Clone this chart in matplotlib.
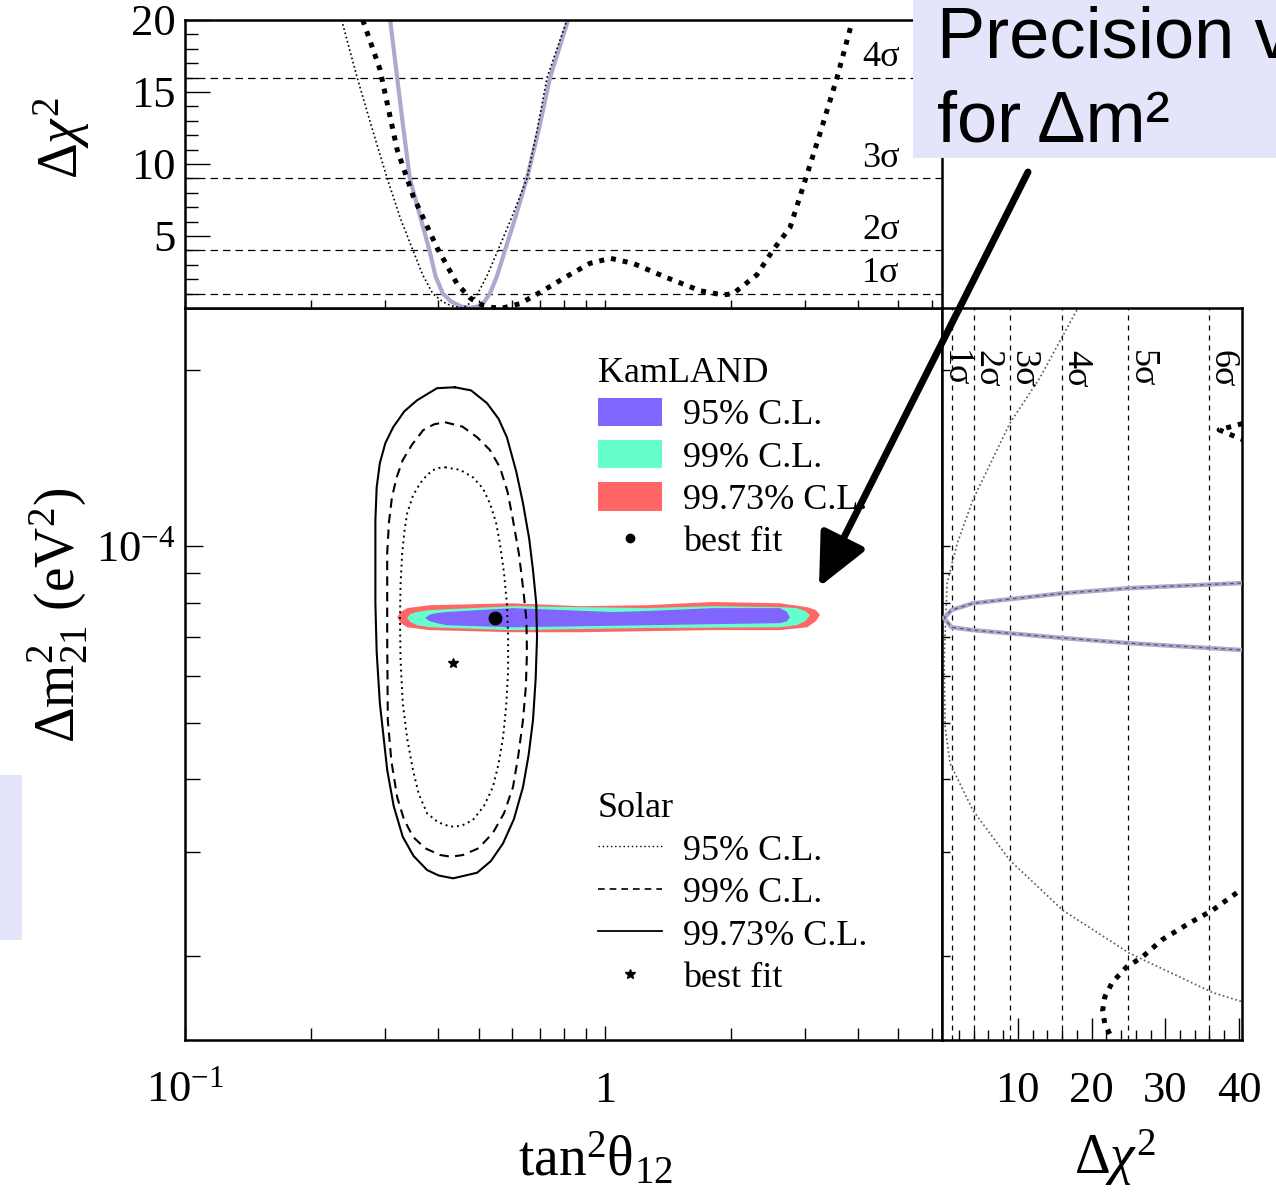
import numpy as np
import matplotlib
matplotlib.use('Agg')
import matplotlib.pyplot as plt
import matplotlib.transforms as mtransforms
from matplotlib.patches import Patch, Rectangle, FancyArrowPatch
from matplotlib.lines import Line2D
from matplotlib.ticker import FixedLocator, NullFormatter, FixedFormatter

plt.rcParams['font.family'] = ['Liberation Serif', 'DejaVu Serif']
plt.rcParams['mathtext.fontset'] = 'custom'
plt.rcParams['mathtext.rm'] = 'Liberation Serif'
plt.rcParams['mathtext.it'] = 'Liberation Serif:italic'
plt.rcParams['mathtext.bf'] = 'Liberation Serif:bold'

# ---------------- data (tan^2 theta, dm2 in 1e-5 eV^2, delta chi^2) ----------------
# Top panel: delta chi^2 vs tan^2 theta12
comb_t = [0.308, 0.320, 0.331, 0.343, 0.362, 0.382, 0.395, 0.411, 0.430, 0.455, 0.477,
          0.500, 0.515, 0.532, 0.553, 0.578, 0.615, 0.652, 0.697, 0.740, 0.817]
comb_c = [20.0, 16.0, 12.5, 9.0, 6.5, 4.0, 2.2, 1.0, 0.45, 0.1, 0.0,
          0.12, 0.4, 1.0, 2.2, 4.0, 6.5, 9.0, 12.5, 16.0, 20.0]

solar_t = [0.236, 0.257, 0.280, 0.303, 0.325, 0.349, 0.368, 0.389, 0.410, 0.430, 0.459,
           0.478, 0.498, 0.525, 0.556, 0.600, 0.652, 0.690, 0.728, 0.812]
solar_c = [20.0, 16.0, 12.3, 9.0, 6.3, 4.0, 2.3, 1.0, 0.45, 0.15, 0.0,
           0.35, 1.0, 2.3, 4.0, 6.3, 9.0, 12.4, 16.0, 20.0]

kam_t = [0.265, 0.291, 0.320, 0.349, 0.398, 0.444, 0.477, 0.510, 0.540, 0.571, 0.628, 0.712,
         0.812, 0.921, 1.03, 1.166, 1.405, 1.684, 1.91, 2.02, 2.30, 2.51, 2.76, 3.03, 3.25,
         3.57, 3.87]
kam_c = [20.0, 16.6, 11.0, 7.8, 4.2, 1.7, 0.7, 0.2, 0.03, 0.0, 0.3, 1.2,
         2.2, 3.1, 3.45, 3.1, 2.1, 1.2, 0.9, 1.0, 2.3, 4.0, 5.6, 9.3, 12.1,
         16.0, 19.8]

sigma_levels = [1, 4, 9, 16, 25, 36]
sigma_names = ['1σ', '2σ', '3σ', '4σ', '5σ', '6σ']

# Right panel: delta chi^2 vs dm2 (1e-5 eV^2)
comb_r_c = [40.3, 25.1, 16.1, 3.9, 1.0, 0.0, 1.0, 3.9, 16.1, 25.1, 40.3]
comb_r_m = [8.65, 8.48, 8.31, 7.99, 7.78, 7.54, 7.27, 7.19, 6.97, 6.83, 6.65]

solar_r_c = [18.0, 13.0, 8.9, 3.9, 1.76, 0.4, 0.0, 0.14, 0.8, 3.9, 8.9, 16.1, 25.1, 36.4, 40.3]
solar_r_m = [25.3, 19.4, 16.2, 12.0, 10.1, 8.65, 6.4, 4.91, 4.26, 3.54, 2.91, 2.39, 2.02, 1.73, 1.67]

kam_r_low_c = [39.7, 36.4, 33.2, 29.6, 26.9, 24.7, 22.8, 21.8, 21.5, 21.8, 22.8]
kam_r_low_m = [2.56, 2.39, 2.27, 2.13, 1.99, 1.91, 1.80, 1.70, 1.61, 1.53, 1.44]
kam_r_high_c = [40.5, 37.3, 40.5]
kam_r_high_m = [16.2, 15.8, 15.2]

# Main panel: solar contours (tan^2, dm2 in 1e-5)
sol997_t = [0.439, 0.480, 0.524, 0.558, 0.584, 0.615, 0.638, 0.660, 0.674, 0.686, 0.689,
            0.684, 0.674, 0.658, 0.638, 0.607, 0.572, 0.535, 0.496, 0.435, 0.402, 0.377,
            0.350, 0.330, 0.314, 0.303, 0.291, 0.286, 0.284, 0.284, 0.286, 0.291, 0.300,
            0.313, 0.333, 0.357, 0.398]
sol997_m = [18.68, 18.45, 17.54, 16.5, 15.35, 13.4, 11.84, 10.3, 9.10, 8.0, 6.99,
            5.95, 5.05, 4.4, 3.88, 3.42, 3.11, 2.90, 2.77, 2.71, 2.74, 2.80,
            2.96, 3.19, 3.6, 4.15, 5.40, 6.6, 7.99, 11.08, 12.6, 13.86, 15.0,
            15.96, 17.0, 17.75, 18.61]

sol99_t = [0.416, 0.458, 0.496, 0.532, 0.562, 0.586, 0.604, 0.624, 0.638, 0.650, 0.652,
           0.648, 0.638, 0.622, 0.604, 0.575, 0.541, 0.500, 0.459, 0.430, 0.405, 0.373,
           0.349, 0.332, 0.320, 0.310, 0.304, 0.303, 0.303, 0.306, 0.311, 0.319, 0.330,
           0.347, 0.369, 0.392]
sol99_m = [16.28, 16.0, 15.35, 14.6, 13.64, 12.4, 11.08, 9.7, 8.51, 7.5, 6.57,
           5.75, 5.05, 4.4, 3.88, 3.5, 3.24, 3.05, 2.97, 2.95, 2.97, 3.05,
           3.19, 3.42, 3.73, 4.3, 5.05, 6.99, 9.73, 11.0, 12.12, 13.1, 14.03,
           14.9, 15.78, 16.15]

sol95_t = [0.416, 0.452, 0.485, 0.512, 0.532, 0.550, 0.562, 0.575, 0.584, 0.588, 0.588,
           0.582, 0.572, 0.558, 0.541, 0.515, 0.485, 0.455, 0.428, 0.400, 0.377, 0.360,
           0.349, 0.338, 0.330, 0.326, 0.325, 0.326, 0.329, 0.333, 0.338, 0.349, 0.363,
           0.376, 0.389, 0.402]
sol95_m = [13.64, 13.5, 13.11, 12.55, 11.84, 11.0, 10.12, 9.0, 7.99, 7.0, 6.14,
           5.35, 4.72, 4.25, 3.88, 3.60, 3.41, 3.33, 3.32, 3.38, 3.50, 3.78,
           4.15, 4.7, 5.40, 6.4, 7.48, 8.6, 9.73, 10.6, 11.38, 12.2, 12.81,
           13.2, 13.48, 13.6]

# KamLAND allowed regions
kl997_t = [0.320, 0.326, 0.338, 0.383, 0.604, 0.872, 1.259, 1.807, 2.61, 3.03, 3.18, 3.25,
           3.18, 3.03, 2.61, 1.807, 1.259, 0.872, 0.604, 0.383, 0.338, 0.326]
kl997_m = [7.56, 7.72, 7.84, 7.93, 7.99, 7.90, 7.93, 8.03, 7.99, 7.87, 7.78, 7.63,
           7.45, 7.27, 7.19, 7.19, 7.16, 7.13, 7.13, 7.19, 7.27, 7.40]
kl99_t = [0.338, 0.344, 0.357, 0.383, 0.604, 1.259, 1.807, 2.61, 2.865, 3.00, 3.077,
          3.00, 2.865, 2.61, 1.259, 0.604, 0.383, 0.357, 0.344]
kl99_m = [7.54, 7.66, 7.72, 7.78, 7.90, 7.84, 7.90, 7.87, 7.84, 7.75, 7.63,
          7.45, 7.33, 7.27, 7.25, 7.19, 7.27, 7.33, 7.42]
kl95_t = [0.373, 0.382, 0.398, 0.420, 0.604, 1.045, 1.259, 1.807, 2.61, 2.71, 2.758,
          2.71, 2.61, 1.807, 1.259, 0.604, 0.420, 0.398, 0.382]
kl95_m = [7.54, 7.64, 7.69, 7.72, 7.84, 7.72, 7.75, 7.84, 7.84, 7.73, 7.56,
          7.44, 7.39, 7.36, 7.33, 7.27, 7.33, 7.39, 7.45]

kam_best = (0.547, 7.55)
sol_best = (0.435, 6.32)

cl_labels = ['95% C.L.', '99% C.L.', '99.73% C.L.', 'best fit']

# ---------------- styling ----------------
C_BLUE = '#8066ff'
C_GREEN = '#66ffcc'
C_RED = '#ff6666'
C_LAV = '#aaaacd'
FS = 26
TICKFS = 32
LABFS = 40
SCALE = 1e-5
SIG_DX = [-1.9, -0.45, -0.54, -0.4, -0.54, -0.54]   # label offsets (layout)

def m(v):
    return np.asarray(v) * SCALE

def closed(a):
    return list(a) + [a[0]]

fig = plt.figure(figsize=(12.76, 11.96), dpi=100)
fig.patch.set_facecolor('white')

ax_main = fig.add_axes([0.1450, 0.1304, 0.5933, 0.6120])
ax_top = fig.add_axes([0.1450, 0.7425, 0.5933, 0.2408], sharex=ax_main)
ax_right = fig.add_axes([0.7382, 0.1304, 0.2351, 0.6120], sharey=ax_main)

for ax in (ax_main, ax_top, ax_right):
    for sp in ax.spines.values():
        sp.set_linewidth(1.8)

# ---------------- main panel ----------------
ax_main.set_xscale('log')
ax_main.set_yscale('log')
ax_main.set_xlim(0.1, 6.35)
ax_main.set_ylim(1.435e-5, 2.55e-4)

ax_main.fill(kl997_t, m(kl997_m), color=C_RED, lw=0, zorder=2)
ax_main.fill(kl99_t, m(kl99_m), color=C_GREEN, lw=0, zorder=2.1)
ax_main.fill(kl95_t, m(kl95_m), color=C_BLUE, lw=0, zorder=2.2)

ax_main.plot(closed(sol997_t), m(closed(sol997_m)), color='black', lw=1.5, zorder=3,
             solid_joinstyle='round')
ax_main.plot(closed(sol99_t), m(closed(sol99_m)), color='black', lw=1.5,
             ls=(0, (4.5, 3)), zorder=3)
ax_main.plot(closed(sol95_t), m(closed(sol95_m)), color='black', lw=1.4,
             ls=(0, (1, 2)), zorder=3)
ax_main.plot([kam_best[0]], [kam_best[1] * SCALE], 'o', color='black', ms=9, zorder=4)
ax_main.plot([sol_best[0]], [sol_best[1] * SCALE], '*', color='black', ms=7, zorder=4)

ax_main.xaxis.set_major_locator(FixedLocator([0.1, 1.0]))
ax_main.xaxis.set_major_formatter(FixedFormatter([r'$\mathregular{10^{-1}}$', '1']))
ax_main.xaxis.set_minor_locator(FixedLocator([0.2, 0.3, 0.4, 0.5, 0.6, 0.7, 0.8, 0.9,
                                              2, 3, 4, 5, 6]))
ax_main.xaxis.set_minor_formatter(NullFormatter())
ax_main.yaxis.set_major_locator(FixedLocator([1e-4]))
ax_main.yaxis.set_major_formatter(FixedFormatter([r'$\mathregular{10^{-4}}$']))
ax_main.yaxis.set_minor_locator(FixedLocator([2e-5, 3e-5, 4e-5, 5e-5, 6e-5, 7e-5,
                                              8e-5, 9e-5, 2e-4]))
ax_main.yaxis.set_minor_formatter(NullFormatter())
ax_main.tick_params(axis='both', which='both', direction='in', top=False, right=False,
                    labelsize=TICKFS, width=1.0)
ax_main.tick_params(axis='x', which='major', length=10, pad=22)
ax_main.tick_params(axis='x', which='minor', length=9)
ax_main.tick_params(axis='y', which='major', length=13, pad=7)
ax_main.tick_params(axis='y', which='minor', length=11)

h1 = [Patch(facecolor=C_BLUE, edgecolor='none'),
      Patch(facecolor=C_GREEN, edgecolor='none'),
      Patch(facecolor=C_RED, edgecolor='none'),
      Line2D([], [], ls='none', marker='o', color='black', ms=6)]
leg1 = ax_main.legend(h1, cl_labels, title='KamLAND', loc='upper left',
                      bbox_to_anchor=(0.5456, 0.933), frameon=False, fontsize=FS,
                      title_fontsize=FS, handlelength=1.78, handleheight=0.83,
                      handletextpad=0.58, labelspacing=0.21, borderpad=0,
                      borderaxespad=0, alignment='left')
ax_main.add_artist(leg1)
h2 = [Line2D([], [], color='black', lw=1.0, ls=(0, (1, 2))),
      Line2D([], [], color='black', lw=1.2, ls=(0, (4, 3))),
      Line2D([], [], color='black', lw=1.3),
      Line2D([], [], ls='none', marker='*', color='black', ms=7)]
leg2 = ax_main.legend(h2, cl_labels, title='Solar', loc='upper left',
                      bbox_to_anchor=(0.5456, 0.339), frameon=False, fontsize=FS,
                      title_fontsize=FS, handlelength=1.78, handleheight=0.83,
                      handletextpad=0.58, labelspacing=0.22, borderpad=0,
                      borderaxespad=0, alignment='left')

# ---------------- top panel ----------------
ax_top.set_ylim(0, 20)
for lev in sigma_levels[:4]:
    ax_top.axhline(lev, color='black', lw=0.9, ls=(0, (6, 4)), zorder=1)
ax_top.plot(comb_t, comb_c, color=C_LAV, lw=3.0, zorder=2)
ax_top.plot(solar_t, solar_c, color='black', lw=1.2, ls=(0, (1, 1.6)), zorder=3)
ax_top.plot(kam_t, kam_c, color='black', lw=3.6, ls=(0, (1, 1.4)), zorder=4)
btr = mtransforms.blended_transform_factory(ax_top.transAxes, ax_top.transData)
for lev, nm in zip(sigma_levels[:4], sigma_names[:4]):
    ax_top.text(0.919, lev + 1.4, nm, transform=btr, ha='center', va='center',
                fontsize=FS)
ax_top.set_yticks([5, 10, 15, 20])
ax_top.yaxis.set_minor_locator(FixedLocator(np.arange(1, 20)))
ax_top.tick_params(axis='y', which='major', direction='in', length=18, width=1.0,
                   labelsize=TICKFS, pad=7, right=False)
ax_top.tick_params(axis='y', which='minor', direction='in', length=9.5, width=1.0,
                   right=False)
ax_top.tick_params(axis='x', which='both', direction='in', length=6, width=1.0,
                   labelbottom=False, top=False)

# ---------------- right panel ----------------
ax_right.set_xlim(-0.3, 40.4)
for lev in sigma_levels:
    ax_right.axvline(lev, color='black', lw=0.9, ls=(0, (4, 4)), zorder=1)
ax_right.plot(solar_r_c, m(solar_r_m), color='#555555', lw=1.2, ls=(0, (1, 1.6)), zorder=2)
ax_right.plot(comb_r_c, m(comb_r_m), color=C_LAV, lw=3.2, zorder=3)
ax_right.plot(comb_r_c, m(comb_r_m), color='#333333', lw=0.9, ls=(0, (3, 3)), zorder=3.5,
              alpha=0.7)
ax_right.plot(kam_r_low_c, m(kam_r_low_m), color='black', lw=3.6, ls=(0, (1, 1.4)), zorder=4)
ax_right.plot(kam_r_high_c, m(kam_r_high_m), color='black', lw=3.6, ls=(0, (1, 1.4)), zorder=4)
btr2 = mtransforms.blended_transform_factory(ax_right.transData, ax_right.transAxes)
for lev, nm, dx in zip(sigma_levels, sigma_names, SIG_DX):
    ax_right.text(lev + dx, 0.9426, nm, transform=btr2, rotation=-90, ha='left',
                  va='top', fontsize=FS)
ax_right.set_xticks([10, 20, 30, 40])
ax_right.xaxis.set_minor_locator(FixedLocator(np.arange(2, 41, 2)))
ax_right.tick_params(axis='x', which='major', direction='in', length=16, width=1.0,
                     labelsize=TICKFS, pad=22, top=False)
ax_right.tick_params(axis='x', which='minor', direction='in', length=7, width=1.0, top=False)
ax_right.tick_params(axis='y', which='both', direction='in', length=6, width=1.0,
                     labelleft=False, right=False)

# ---------------- axis labels ----------------
fig.text(595 / 1276, 1 - 1160 / 1196, r'$\mathregular{tan^2\theta_{12}}$',
         fontsize=LABFS, ha='center', va='center')
fig.text(1115 / 1276, 1 - 1158 / 1196, r'$\Delta\chi^2$', fontsize=LABFS,
         ha='center', va='center')
fig.text(62 / 1276, 1 - 138 / 1196, r'$\Delta\chi^2$', fontsize=LABFS,
         ha='center', va='center', rotation=90)
fig.text(58 / 1276, 1 - 615 / 1196, r'$\Delta\mathregular{m^2_{21}\ (eV^2)}$',
         fontsize=LABFS, ha='center', va='center', rotation=90)

# ---------------- annotation overlay ----------------
box = Rectangle((913 / 1276, 1 - 158 / 1196), 0.5, 0.5, transform=fig.transFigure,
                facecolor='#e4e4fa', edgecolor='none', zorder=10)
fig.add_artist(box)
fig.text(937 / 1276, 1 - 57 / 1196, 'Precision v', fontsize=52,
         family='Liberation Sans', ha='left', va='baseline', zorder=11)
fig.text(937 / 1276, 1 - 142 / 1196, 'for Δm²', fontsize=52,
         family='Liberation Sans', ha='left', va='baseline', zorder=11)
side = Rectangle((0, 1 - 940 / 1196), 22 / 1276, 165 / 1196, transform=fig.transFigure,
                 facecolor='#e4e4fa', edgecolor='none', zorder=10)
fig.add_artist(side)
arr = FancyArrowPatch(posA=(1028 / 1276, 1 - 172 / 1196), posB=(819 / 1276, 1 - 587 / 1196),
                      transform=fig.transFigure,
                      arrowstyle='-|>,head_length=1.6,head_width=0.75',
                      mutation_scale=20, lw=5, color='black', shrinkA=0, shrinkB=0,
                      zorder=12)
fig.add_artist(arr)

fig.savefig('out.png', dpi=100)
